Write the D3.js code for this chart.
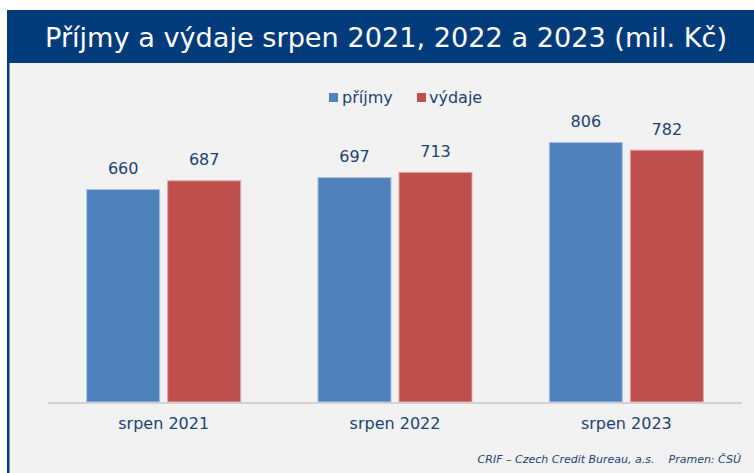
<!DOCTYPE html>
<html>
<head>
<meta charset="utf-8">
<script src="https://cdn.jsdelivr.net/npm/d3@7"></script>
<style>
  html, body { margin: 0; padding: 0; background: #ffffff; }
  svg { display: block; }
</style>
</head>
<body>
<script>
// Data
const categories = ["srpen 2021", "srpen 2022", "srpen 2023"];
const seriesNames = ["příjmy", "výdaje"];
const prijmy = [660, 697, 806];
const vydaje = [687, 713, 782];
const titleText = "Příjmy a výdaje srpen 2021, 2022 a 2023 (mil. Kč)";
const footerText = "CRIF – Czech Credit Bureau, a.s.    Pramen: ČSÚ";

const W = 754, H = 473;
const colors = ["#4f81bd", "#c0504d"];
const strokes = ["#a9c1e0", "#e0a5a3"];
const textColor = "#1a4274";
const font = "'DejaVu Sans', Verdana, sans-serif";

const svg = d3.select("body").append("svg")
  .attr("width", W).attr("height", H);

// Frame: panel background, left border and title banner
svg.append("rect").attr("x", 7).attr("y", 10).attr("width", W - 7).attr("height", H - 10)
  .attr("fill", "#f2f2f2");
svg.append("rect").attr("x", 7).attr("y", 10).attr("width", 2.5).attr("height", H - 10)
  .attr("fill", "#023b7a");
svg.append("rect").attr("x", 7).attr("y", 10).attr("width", W - 7).attr("height", 53)
  .attr("fill", "#023b7a");

svg.append("text")
  .attr("x", 45).attr("y", 47)
  .attr("textLength", 682).attr("lengthAdjust", "spacingAndGlyphs")
  .attr("font-family", font).attr("font-size", 26)
  .attr("fill", "#ffffff")
  .text(titleText);

// Scales
const x0 = d3.scaleBand().domain(categories).range([48, 742]).paddingInner(0).paddingOuter(0);
const x1 = d3.scaleBand().domain(seriesNames).range([0, x0.bandwidth()]).paddingInner(0.0864).paddingOuter(0.471);
const y = d3.scaleLinear().domain([0, 1000]).range([402, 79.3]);

const rows = categories.map((c, i) => ({ cat: c, vals: [prijmy[i], vydaje[i]] }));

const groups = svg.append("g").selectAll("g").data(rows).join("g")
  .attr("transform", d => `translate(${x0(d.cat)},0)`);

groups.selectAll("rect").data(d => d.vals.map((v, k) => ({ v, k })))
  .join("rect")
  .attr("x", d => x1(seriesNames[d.k]) + 0.5)
  .attr("y", d => y(d.v) + 0.5)
  .attr("width", x1.bandwidth() - 1)
  .attr("height", d => y(0) - y(d.v) - 0.5)
  .attr("fill", d => colors[d.k])
  .attr("stroke", d => strokes[d.k])
  .attr("stroke-width", 1);

groups.selectAll("text.val").data(d => d.vals.map((v, k) => ({ v, k })))
  .join("text").attr("class", "val")
  .attr("x", d => x1(seriesNames[d.k]) + x1.bandwidth() / 2)
  .attr("y", d => y(d.v) - 15)
  .attr("text-anchor", "middle")
  .attr("font-family", font).attr("font-size", 16)
  .attr("fill", textColor)
  .text(d => d.v);

// Category axis
const xAxis = svg.append("g").attr("transform", `translate(0,${y(0)})`)
  .call(d3.axisBottom(x0).tickSize(0).tickPadding(0));
xAxis.select(".domain").attr("stroke", "#d2d2d2").attr("stroke-width", 2)
  .attr("d", `M48,1H742`);
xAxis.selectAll(".tick text")
  .attr("y", 27)
  .attr("dy", 0)
  .attr("font-family", font).attr("font-size", 16)
  .attr("fill", textColor);

// Legend
const legend = svg.append("g");
const legendItems = [
  { name: seriesNames[0], sx: 329, tx: 342 },
  { name: seriesNames[1], sx: 417, tx: 429 }
];
legendItems.forEach((it, k) => {
  legend.append("rect").attr("x", it.sx).attr("y", 93).attr("width", 9).attr("height", 9)
    .attr("fill", colors[k]);
  legend.append("text").attr("x", it.tx).attr("y", 103)
    .attr("font-family", font).attr("font-size", 16)
    .attr("fill", textColor).text(it.name);
});

// Footer
svg.append("text")
  .attr("x", 741).attr("y", 463)
  .attr("text-anchor", "end")
  .attr("font-family", font).attr("font-size", 11)
  .attr("font-style", "italic")
  .attr("fill", textColor)
  .attr("xml:space", "preserve")
  .style("white-space", "pre")
  .text(footerText);
</script>
</body>
</html>
